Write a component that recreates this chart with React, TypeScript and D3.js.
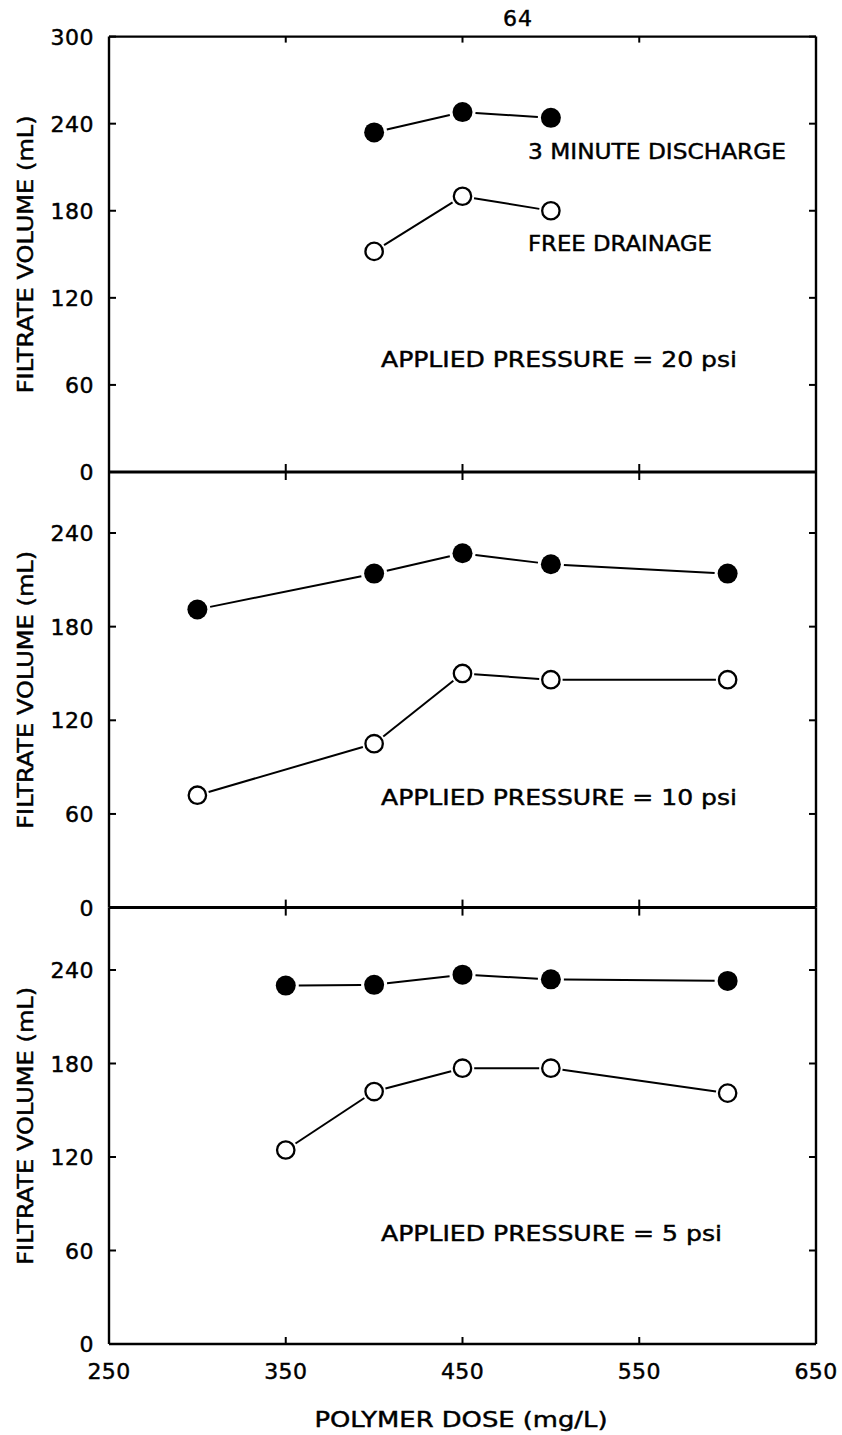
import React from "react";
import * as d3 from "d3";

// ---- data ----
const xTicks = [250, 350, 450, 550, 650];
const yTicksTop = [0, 60, 120, 180, 240, 300];
const yTicksLower = [0, 60, 120, 180, 240];

const dosesP20 = [400, 450, 500];
const dischargeP20 = [234, 248, 244];
const drainageP20 = [152, 190, 180];

const dosesP10 = [300, 400, 450, 500, 600];
const dischargeP10 = [191, 214, 227, 220, 214];
const drainageP10 = [72, 105, 150, 146, 146];

const dosesP5 = [350, 400, 450, 500, 600];
const dischargeP5 = [230, 230.5, 237, 234, 233];
const drainageP5 = [124.5, 162, 177, 177, 161];

const pressureLabels = ["APPLIED PRESSURE = 20 psi", "APPLIED PRESSURE = 10 psi", "APPLIED PRESSURE = 5 psi"];

const FONT = "'DejaVu Sans', sans-serif";
const TXT = { fontFamily: FONT, stroke: "#000", strokeWidth: 0.45 } as const;

const x = d3.scaleLinear().domain([250, 650]).range([109, 816]);
const yTop = d3.scaleLinear().domain([0, 300]).range([472, 36.6]);
const yMid = d3.scaleLinear().domain([0, 240]).range([907.6, 533]);
const yBot = d3.scaleLinear().domain([0, 240]).range([1344, 970]);

const LEFT = x(250);
const RIGHT = x(650);

function Series({ doses, vals, y, filled }: { doses: number[]; vals: number[]; y: d3.ScaleLinear<number, number>; filled: boolean }) {
  const r = filled ? 10 : 8.7;
  const pts = doses.map((d, i) => [x(d), y(vals[i])] as [number, number]);
  const gap = r + 3;
  const segs = [];
  for (let i = 0; i < pts.length - 1; i++) {
    const [x1, y1] = pts[i];
    const [x2, y2] = pts[i + 1];
    const len = Math.hypot(x2 - x1, y2 - y1);
    const ux = (x2 - x1) / len;
    const uy = (y2 - y1) / len;
    segs.push(
      <line key={"s" + i} x1={x1 + ux * gap} y1={y1 + uy * gap} x2={x2 - ux * gap} y2={y2 - uy * gap} stroke="#000" strokeWidth={2} />
    );
  }
  return (
    <g>
      {segs}
      {pts.map(([px, py], i) => (
        <circle key={"c" + i} cx={px} cy={py} r={r} fill={filled ? "#000" : "#fff"} stroke="#000" strokeWidth={filled ? 0 : 2.3} />
      ))}
    </g>
  );
}

function YAxis({ y, ticks, top, bottom }: { y: d3.ScaleLinear<number, number>; ticks: number[]; top: number; bottom: number }) {
  return (
    <g>
      <line x1={LEFT} y1={top} x2={LEFT} y2={bottom} stroke="#000" strokeWidth={2.4} />
      <line x1={RIGHT} y1={top} x2={RIGHT} y2={bottom} stroke="#000" strokeWidth={2.4} />
      {ticks.map((t) => (
        <g key={t}>
          <line x1={LEFT} y1={y(t)} x2={LEFT + 7} y2={y(t)} stroke="#000" strokeWidth={2} />
          <line x1={RIGHT} y1={y(t)} x2={RIGHT - 7} y2={y(t)} stroke="#000" strokeWidth={2} />
          <text x={94} y={y(t) + 8} textAnchor="end" fontSize={22} letterSpacing={0.5} {...TXT}>
            {t}
          </text>
        </g>
      ))}
    </g>
  );
}

function YTitle({ cy }: { cy: number }) {
  return (
    <text
      transform={`translate(33,${cy}) rotate(-90)`}
      textAnchor="middle"
      fontSize={22}
      textLength={278}
      lengthAdjust="spacingAndGlyphs"
      {...TXT}
    >
      FILTRATE VOLUME (mL)
    </text>
  );
}

export default function App() {
  const inner = [350, 450, 550];
  const dividers = [yTop(0), yMid(0)];
  return (
    <svg width={842} height={1435} style={{ position: "absolute", left: 0, top: 0, background: "#fff" }}>
      <rect x={0} y={0} width={842} height={1435} fill="#fff" />
      {/* page number */}
      <text x={518} y={26} textAnchor="middle" fontSize={22} letterSpacing={1} {...TXT}>
        64
      </text>

      {/* top border */}
      <line x1={LEFT} y1={yTop(300)} x2={RIGHT} y2={yTop(300)} stroke="#000" strokeWidth={2.4} />
      {inner.map((t) => (
        <line key={"tt" + t} x1={x(t)} y1={yTop(300)} x2={x(t)} y2={yTop(300) + 6} stroke="#000" strokeWidth={2} />
      ))}

      {/* dividers */}
      {dividers.map((dy, k) => (
        <g key={"d" + k}>
          <line x1={LEFT} y1={dy} x2={RIGHT} y2={dy} stroke="#000" strokeWidth={3} />
          {inner.map((t) => (
            <line key={t} x1={x(t)} y1={dy - 8} x2={x(t)} y2={dy + 8} stroke="#000" strokeWidth={2} />
          ))}
        </g>
      ))}

      {/* bottom axis */}
      <line x1={LEFT} y1={yBot(0)} x2={RIGHT} y2={yBot(0)} stroke="#000" strokeWidth={2.6} />
      {inner.map((t) => (
        <line key={"bt" + t} x1={x(t)} y1={yBot(0)} x2={x(t)} y2={yBot(0) - 7} stroke="#000" strokeWidth={2} />
      ))}
      {xTicks.map((t) => (
        <text key={"xl" + t} x={x(t)} y={1379} textAnchor="middle" fontSize={22} letterSpacing={0.3} {...TXT}>
          {t}
        </text>
      ))}
      <text x={461} y={1427} textAnchor="middle" fontSize={21.5} textLength={293} lengthAdjust="spacingAndGlyphs" {...TXT}>
        POLYMER DOSE (mg/L)
      </text>

      {/* y axes */}
      <YAxis y={yTop} ticks={yTicksTop} top={yTop(300)} bottom={yTop(0)} />
      <YAxis y={yMid} ticks={yTicksLower} top={yTop(0)} bottom={yMid(0)} />
      <YAxis y={yBot} ticks={yTicksLower} top={yMid(0)} bottom={yBot(0)} />

      <YTitle cy={(yTop(300) + yTop(0)) / 2} />
      <YTitle cy={(yTop(0) + yMid(0)) / 2} />
      <YTitle cy={(yMid(0) + yBot(0)) / 2} />

      {/* series */}
      <Series doses={dosesP20} vals={dischargeP20} y={yTop} filled={true} />
      <Series doses={dosesP20} vals={drainageP20} y={yTop} filled={false} />
      <Series doses={dosesP10} vals={dischargeP10} y={yMid} filled={true} />
      <Series doses={dosesP10} vals={drainageP10} y={yMid} filled={false} />
      <Series doses={dosesP5} vals={dischargeP5} y={yBot} filled={true} />
      <Series doses={dosesP5} vals={drainageP5} y={yBot} filled={false} />

      {/* annotations */}
      <text x={528} y={159} fontSize={21.5} textLength={258} lengthAdjust="spacingAndGlyphs" {...TXT}>
        3 MINUTE DISCHARGE
      </text>
      <text x={528} y={251} fontSize={21.5} textLength={184} lengthAdjust="spacingAndGlyphs" {...TXT}>
        FREE DRAINAGE
      </text>
      <text x={381} y={367} fontSize={21.5} textLength={356} lengthAdjust="spacingAndGlyphs" {...TXT}>
        {pressureLabels[0]}
      </text>
      <text x={381} y={805} fontSize={21.5} textLength={356} lengthAdjust="spacingAndGlyphs" {...TXT}>
        {pressureLabels[1]}
      </text>
      <text x={381} y={1241} fontSize={21.5} textLength={341} lengthAdjust="spacingAndGlyphs" {...TXT}>
        {pressureLabels[2]}
      </text>
    </svg>
  );
}
